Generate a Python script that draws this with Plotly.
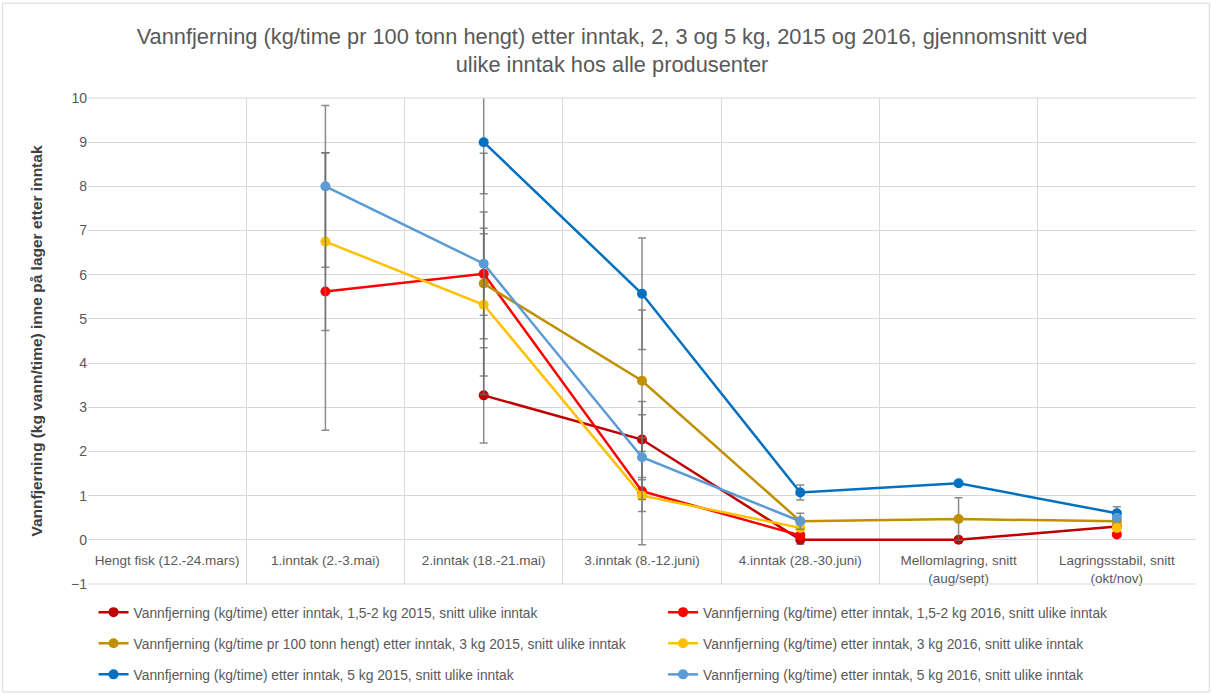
import plotly.graph_objects as go

categories = ["Hengt fisk (12.-24.mars)", "1.inntak (2.-3.mai)", "2.inntak (18.-21.mai)",
              "3.inntak (8.-12.juni)", "4.inntak (28.-30.juni)",
              "Mellomlagring, snitt<br>(aug/sept)", "Lagringsstabil, snitt<br>(okt/nov)"]

names = ["Vannfjerning (kg/time) etter inntak, 1,5-2 kg 2015, snitt ulike inntak",
         "Vannfjerning (kg/time) etter inntak, 1,5-2 kg 2016, snitt ulike inntak",
         "Vannfjerning (kg/time pr 100 tonn hengt) etter inntak, 3 kg 2015, snitt ulike inntak",
         "Vannfjerning (kg/time) etter inntak, 3 kg 2016, snitt ulike inntak",
         "Vannfjerning (kg/time) etter inntak, 5 kg 2015, snitt ulike inntak",
         "Vannfjerning (kg/time) etter inntak, 5 kg 2016, snitt ulike inntak"]

small_2015 = [None, None, 3.27, 2.27, 0.0, 0.0, 0.3]
small_2016 = [None, 5.62, 6.02, 1.1, 0.1, None, 0.12]
mid_2015 = [None, None, 5.8, 3.6, 0.42, 0.47, 0.42]
mid_2016 = [None, 6.75, 5.32, 1.0, 0.27, None, 0.27]
big_2015 = [None, None, 9.0, 5.57, 1.07, 1.28, 0.6]
big_2016 = [None, 8.0, 6.25, 1.87, 0.42, None, 0.5]

err_small_2015 = [None, None, 1.08, 0.86, 0.1, None, None]
err_small_2016 = [None, 3.14, 2.73, 1.21, None, None, None]
err_mid_2015 = [None, None, 1.25, 1.6, None, 0.48, None]
err_mid_2016 = [None, 2.01, 1.61, 0.36, None, None, None]
err_big_2015 = [None, None, 1.17, 1.26, 0.17, None, 0.15]
err_big_2016 = [None, 1.83, 1.17, 0.96, 0.18, None, None]

series = [small_2015, small_2016, mid_2015, mid_2016, big_2015, big_2016]
errors = [err_small_2015, err_small_2016, err_mid_2015, err_mid_2016, err_big_2015, err_big_2016]
colors = ["#C00000", "#FF0000", "#BF9000", "#FFC000", "#0070C0", "#5B9BD5"]

font = "Liberation Sans"
grey = "#595959"

fig = go.Figure()
for i, (vals, errs, col, name) in enumerate(zip(series, errors, colors, names)):
    fig.add_trace(go.Scatter(
        x=categories, y=vals, name=name, mode="lines+markers",
        line=dict(color=col, width=2.5), marker=dict(color=col, size=10),
        error_y=dict(type="data", array=errs, visible=True, color="rgba(110,110,110,0.8)",
                     thickness=1.5, width=4),
        legend="legend" if i == 0 else "legend%d" % (i + 1),
    ))

# one legend per entry, two columns x three rows like the excel chart
leg_x = [0.005, 0.519]
leg_y = [-0.058, -0.122, -0.186]
legs = {}
for i in range(6):
    key = "legend" if i == 0 else "legend%d" % (i + 1)
    legs[key] = dict(x=leg_x[i % 2], y=leg_y[i // 2], xanchor="left", yanchor="middle",
                     orientation="h", font=dict(family=font, size=13.8, color=grey),
                     bgcolor="rgba(0,0,0,0)", itemwidth=30)

fig.update_layout(
    width=1212, height=695,
    margin=dict(l=88, r=16, t=98, b=111, autoexpand=False),
    paper_bgcolor="white", plot_bgcolor="white",
    font=dict(family=font, color=grey),
    title=dict(text="Vannfjerning (kg/time pr 100 tonn hengt) etter inntak, 2, 3 og 5 kg, 2015 og 2016, gjennomsnitt ved<br>ulike inntak hos alle produsenter",
               x=0.505, xref="container", xanchor="center", y=0.937, yanchor="middle",
               font=dict(family=font, size=21.8, color=grey)),
    xaxis=dict(type="category", tickson="boundaries", showgrid=True, gridcolor="#d9d9d9",
               anchor="free", position=1 / 11, ticks="", ticklabelstandoff=11, tickangle=0,
               showline=False, zeroline=False, automargin=False,
               tickfont=dict(family=font, size=13.5, color=grey), range=[-0.5, 6.5]),
    yaxis=dict(range=[-1, 10], dtick=1, showgrid=True, gridcolor="#d9d9d9", zeroline=True,
               zerolinecolor="#d9d9d9", zerolinewidth=1, showline=False, automargin=False,
               tickfont=dict(family=font, size=14, color=grey),
               title=dict(text="<b>Vannfjerning (kg vann/time) inne på lager etter inntak</b>",
                          font=dict(family=font, size=15.5, color="#404040"), standoff=24)),
    showlegend=True,
    **legs,
)

fig.add_shape(type="line", xref="paper", yref="paper", x0=0, x1=1, y0=0, y1=0,
              line=dict(color="#d9d9d9", width=1))
fig.add_shape(type="line", xref="paper", yref="paper", x0=0, x1=1, y0=1, y1=1,
              line=dict(color="#d9d9d9", width=1))
fig.add_shape(type="rect", xref="paper", yref="paper", x0=-0.077, x1=1.012, y0=-0.222, y1=1.195,
              line=dict(color="#d9d9d9", width=1))

fig.write_html("out.html", config={"displayModeBar": False},
               post_script="document.body.style.margin='0';")
